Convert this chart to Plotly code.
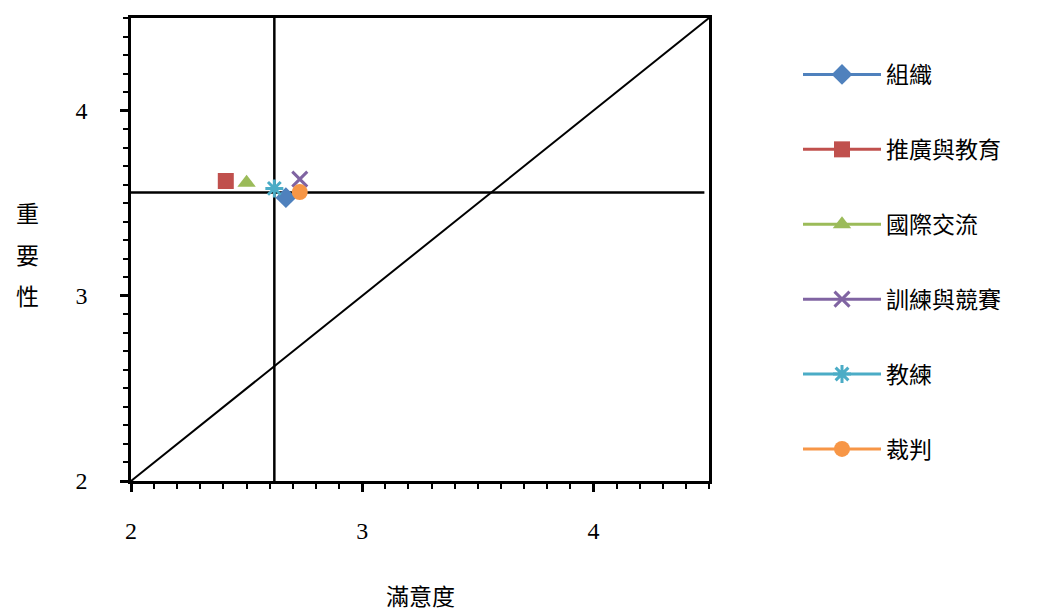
import plotly.graph_objects as go

# Data
categories = ["組織", "推廣與教育", "國際交流", "訓練與競賽", "教練", "裁判"]
satisfaction = [2.67, 2.41, 2.50, 2.73, 2.62, 2.73]
importance = [3.53, 3.62, 3.61, 3.63, 3.58, 3.56]
colors = ["#4F81BD", "#C0504D", "#9BBB59", "#8064A2", "#4BACC6", "#F79646"]
symbols = ["diamond", "square", "triangle-up", "x-thin-open", "asterisk-open", "circle"]
sizes = [16, 16, 16, 15, 15, 16]

mean_satisfaction = 2.62
mean_importance = 3.558
axis_min, axis_max = 2, 4.5
ref_x_end = 4.48

y_title_chars = ["重", "要", "性"]
x_title = "滿意度"

FONT = "Liberation Serif, Noto Sans CJK TC, serif"

fig = go.Figure()

# reference lines
fig.add_trace(go.Scatter(x=[axis_min, axis_max], y=[axis_min, axis_max], mode="lines",
                         line=dict(color="black", width=2), showlegend=False, hoverinfo="skip"))
fig.add_trace(go.Scatter(x=[axis_min, ref_x_end], y=[mean_importance, mean_importance], mode="lines",
                         line=dict(color="black", width=2.5), showlegend=False, hoverinfo="skip"))
fig.add_trace(go.Scatter(x=[mean_satisfaction, mean_satisfaction], y=[axis_min, axis_max], mode="lines",
                         line=dict(color="black", width=2.5), showlegend=False, hoverinfo="skip"))

for i, name in enumerate(categories):
    open_sym = symbols[i].endswith("open")
    fig.add_trace(go.Scatter(
        x=[satisfaction[i]], y=[importance[i]], name=name, mode="lines+markers",
        legendgroup=name,
        line=dict(color=colors[i], width=3),
        marker=dict(symbol=symbols[i], size=sizes[i], color=colors[i],
                    line=dict(color=colors[i], width=3 if open_sym else 0)),
    ))

# page has an 8px body margin
OFF = 8
W, H = 1042 - OFF, 610 - OFF
# plot area in page pixels
PX0, PX1, PY0, PY1 = 131, 709, 18, 481
L, T = PX0 - OFF, PY0 - OFF
R, B = W - (PX1 - OFF), H - (PY1 - OFF)
pw, ph = PX1 - PX0, PY1 - PY0


def px(x):
    return (x - PX0) / pw


def py(y):
    return (PY1 - y) / ph


annotations = []
for ch, yy in zip(y_title_chars, [215, 256, 297]):
    annotations.append(dict(text=ch, x=px(27), y=py(yy), xref="paper", yref="paper",
                            xanchor="center", yanchor="middle", showarrow=False, font=dict(size=23)))
annotations.append(dict(text=x_title, x=px(420), y=py(597), xref="paper", yref="paper",
                        xanchor="center", yanchor="middle", showarrow=False, font=dict(size=23)))

fig.update_layout(
    width=W, height=H,
    margin=dict(l=L, r=R, t=T, b=B, autoexpand=False),
    plot_bgcolor="white", paper_bgcolor="white",
    font=dict(family=FONT, size=23, color="black"),
    showlegend=True,
    legend=dict(x=px(798), y=py(53), xanchor="left", yanchor="top",
                font=dict(family=FONT, size=23, color="black"),
                tracegroupgap=42, traceorder="grouped", itemwidth=78),
    annotations=annotations,
)

axis_common = dict(range=[axis_min, axis_max], showgrid=False, zeroline=False, automargin=False,
                   showline=True, linecolor="black", linewidth=2.5, mirror=True,
                   ticks="outside", ticklen=8, tickwidth=2.5, tickcolor="black",
                   tick0=2, dtick=1,
                   minor=dict(ticks="outside", ticklen=5, tickwidth=2, tickcolor="black", dtick=0.1, showgrid=False),
                   tickfont=dict(family=FONT, size=24))
fig.update_xaxes(**axis_common, ticklabelstandoff=18)
fig.update_yaxes(**axis_common, ticklabelstandoff=28)

fig.write_html("out.html")
